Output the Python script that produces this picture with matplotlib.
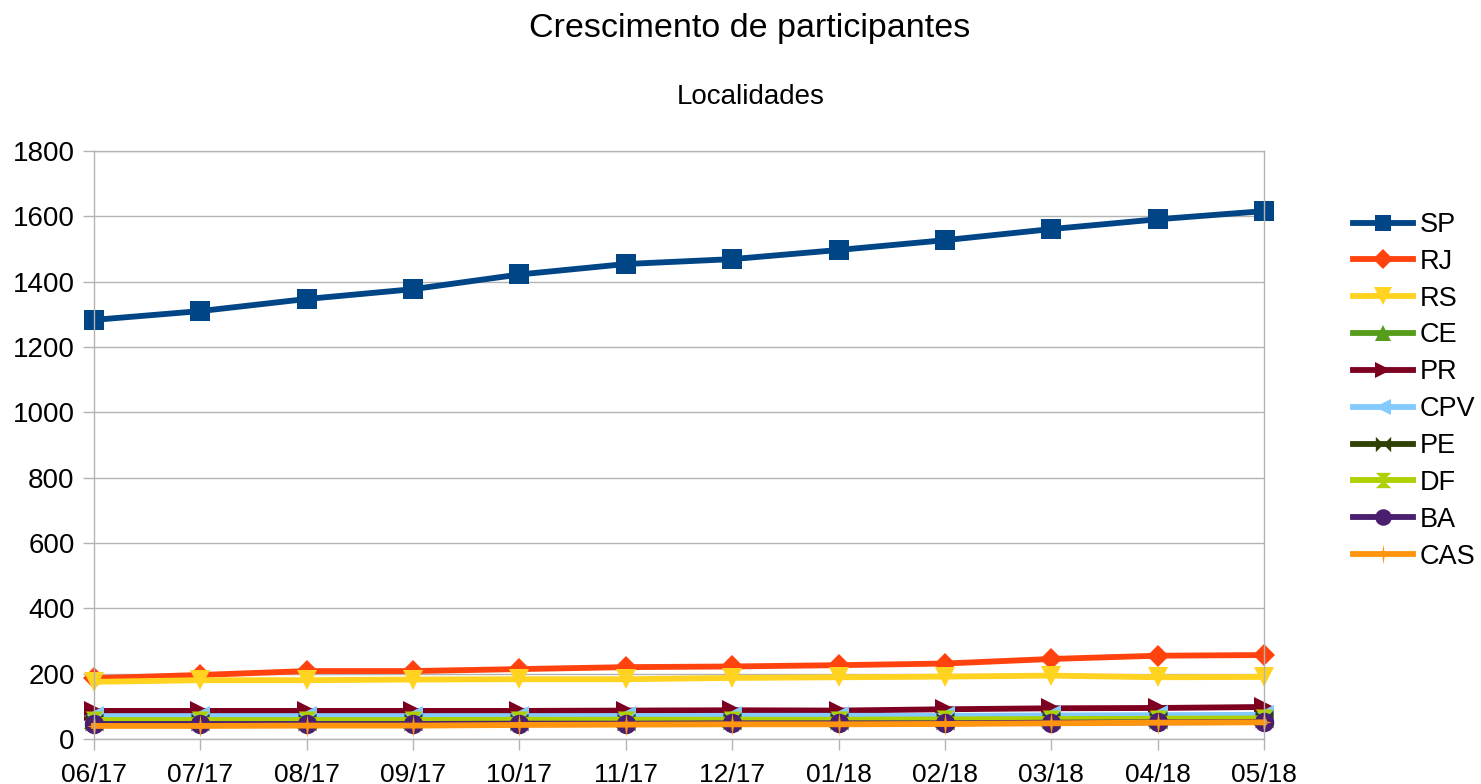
import matplotlib
matplotlib.use("Agg")
import matplotlib.pyplot as plt
from matplotlib.path import Path
import numpy as np

plt.rcParams['font.family'] = ['Liberation Sans', 'DejaVu Sans']

months = ["06/17", "07/17", "08/17", "09/17", "10/17", "11/17",
          "12/17", "01/18", "02/18", "03/18", "04/18", "05/18"]

SP  = [1283, 1310, 1347, 1377, 1422, 1454, 1469, 1497, 1527, 1561, 1591, 1616]
RJ  = [186, 196, 208, 208, 214, 220, 222, 226, 231, 245, 255, 257]
RS  = [175, 180, 180, 182, 183, 183, 187, 189, 191, 194, 189, 190]
CE  = [62, 62, 62, 62, 63, 64, 64, 64, 65, 66, 68, 70]
PR  = [86, 86, 86, 86, 86, 87, 88, 87, 91, 94, 95, 98]
CPV = [70, 70, 70, 70, 70, 70, 71, 71, 71, 72, 73, 74]
PE  = [52, 52, 52, 52, 53, 53, 54, 54, 55, 57, 58, 60]
DF  = [58, 58, 58, 58, 59, 59, 59, 59, 60, 61, 62, 63]
BA  = [46, 46, 46, 46, 47, 47, 48, 48, 48, 50, 51, 52]
CAS = [40, 40, 41, 41, 43, 44, 45, 45, 46, 48, 50, 51]

series_names = ["SP", "RJ", "RS", "CE", "PR", "CPV", "PE", "DF", "BA", "CAS"]
series_vals = [SP, RJ, RS, CE, PR, CPV, PE, DF, BA, CAS]
colors = ["#004586", "#ff420e", "#ffd320", "#579d1c", "#7e0021",
          "#83caff", "#314004", "#aecf00", "#4b1f6f", "#ff950e"]

bowtie = Path([(-1, 1), (-1, -1), (0, 0), (1, -1), (1, 1), (0, 0), (-1, 1)],
              [Path.MOVETO] + [Path.LINETO] * 5 + [Path.CLOSEPOLY])
hourglass = Path([(-1, 1), (1, 1), (0, 0), (1, -1), (-1, -1), (0, 0), (-1, 1)],
                 [Path.MOVETO] + [Path.LINETO] * 5 + [Path.CLOSEPOLY])
star4 = Path([(0, 1), (0.12, 0.12), (0.6, 0), (0.12, -0.12), (0, -1),
              (-0.12, -0.12), (-0.6, 0), (-0.12, 0.12), (0, 1)],
             [Path.MOVETO] + [Path.LINETO] * 7 + [Path.CLOSEPOLY])
markers = ["s", "D", "v", "^", ">", "<", bowtie, hourglass, "o", star4]
msizes = [14, 11.5, 15, 14, 14, 14, 13, 13, 14, 17]

fig = plt.figure(figsize=(14.81, 7.84), dpi=100)
ax = fig.add_axes([94/1481, 1 - 739/784, (1264-94)/1481, (739-151)/784])

x = np.arange(len(months))
for name, vals, c, m, ms in zip(series_names, series_vals, colors, markers, msizes):
    ax.plot(x, vals, color=c, lw=4.2, marker=m, markersize=ms,
            markeredgewidth=0, label=name, clip_on=False, solid_joinstyle='round')

ax.set_xlim(0, len(months) - 1)
ax.set_ylim(0, 1800)
ax.set_yticks(np.arange(0, 1801, 200))
ax.set_xticks(x)
ax.set_xticklabels(months)
ax.grid(axis='y', color='#b3b3b3', lw=1)
ax.set_axisbelow(True)
for s in ax.spines.values():
    s.set_color('#b3b3b3')
    s.set_linewidth(1)
ax.tick_params(axis='both', colors='#b3b3b3', labelcolor='black',
               labelsize=20, length=8, width=1, direction='out')
ax.tick_params(axis='x', pad=9, labelsize=19)
ax.tick_params(axis='y', pad=6)

fig.text(750/1481, 1 - 28/784, "Crescimento de participantes", ha='center', va='center',
         fontsize=24.5)
fig.text(751/1481, 1 - 97/784, "Localidades", ha='center', va='center', fontsize=20)

leg = fig.legend(loc='upper left', bbox_to_anchor=(1353/1481, 1 - 212/784),
                 frameon=False, fontsize=19.5, handlelength=2.2, handletextpad=0.26,
                 labelspacing=0.4, borderaxespad=0, borderpad=0, markerscale=0.85)

fig.savefig("out.png", dpi=100)
